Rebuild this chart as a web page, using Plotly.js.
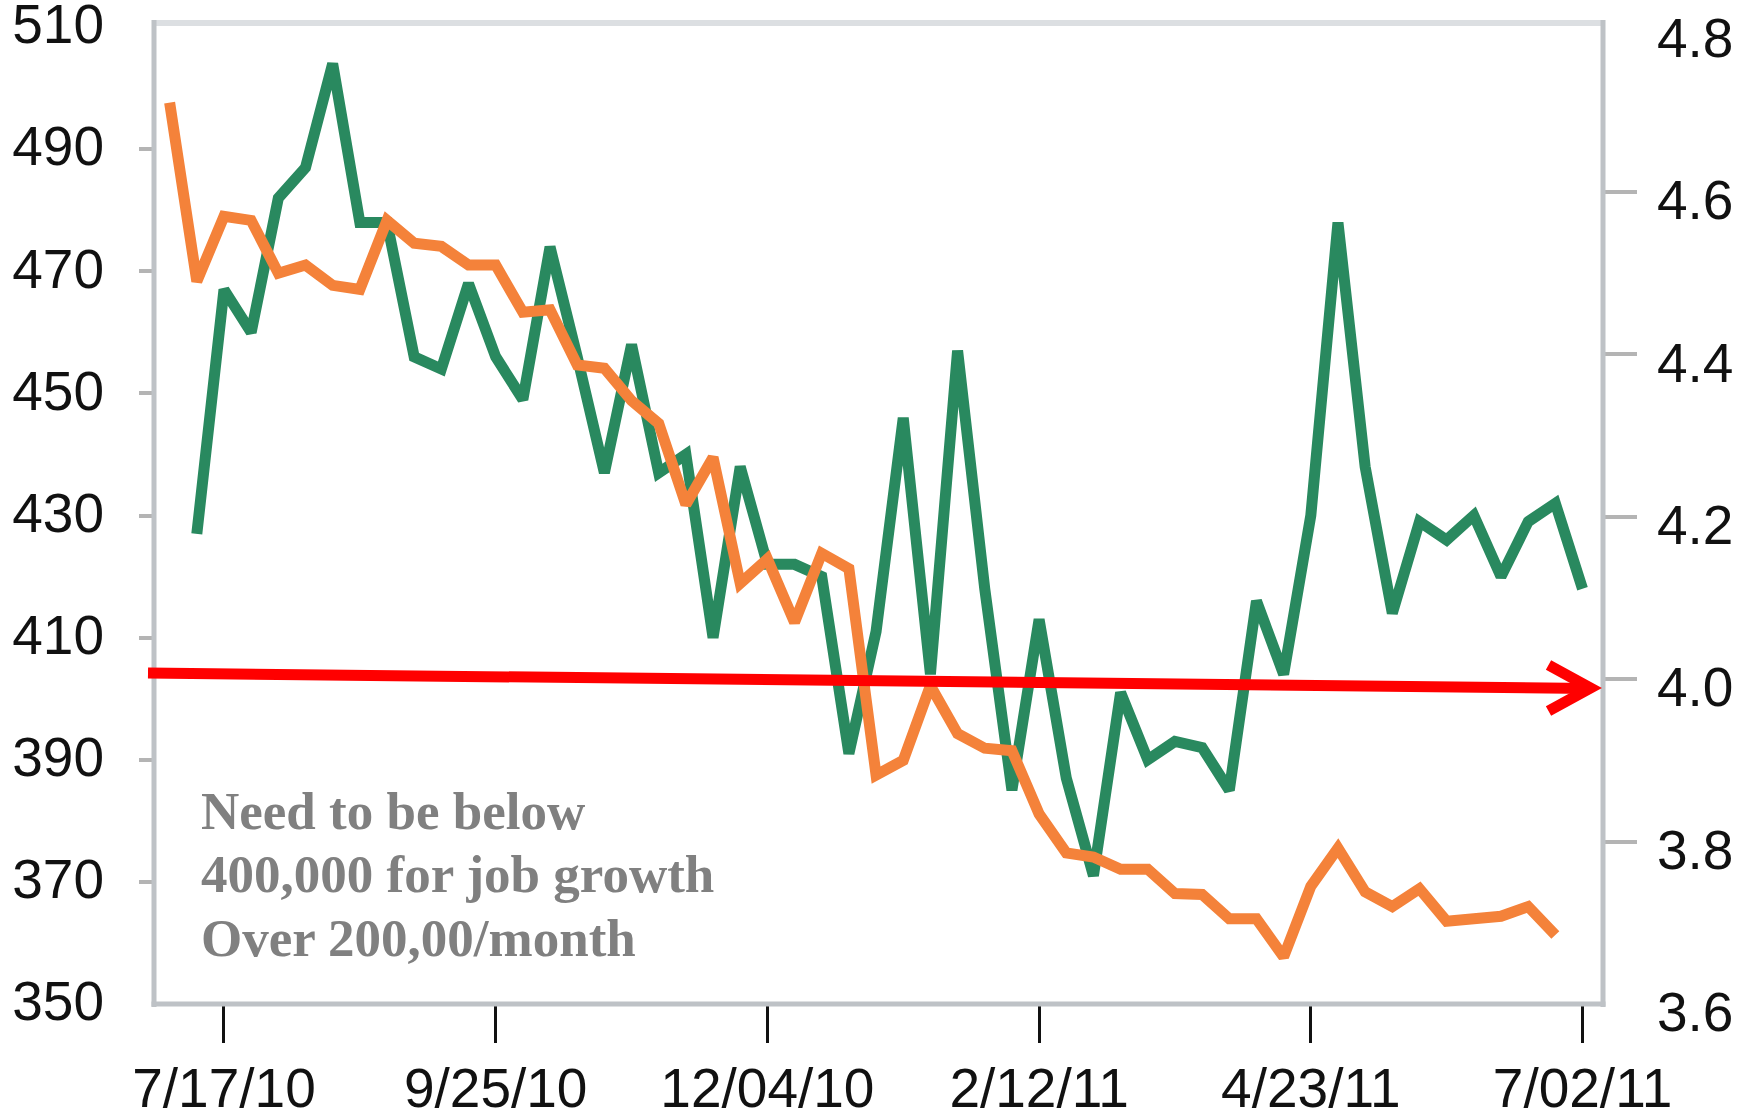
<!DOCTYPE html>
<html><head><meta charset="utf-8">
<script src="https://cdn.plot.ly/plotly-3.0.1.min.js"></script>
<style>html,body{margin:0;padding:0;background:#fff;overflow:hidden}#chart{width:1742px;height:1115px}</style>
</head><body><div id="chart"></div>
<script>
// Weekly dates (Saturdays), 2010-07-03 .. 2011-07-02
const weeks = ['2010-07-03','2010-07-10','2010-07-17','2010-07-24','2010-07-31','2010-08-07','2010-08-14','2010-08-21','2010-08-28',
  '2010-09-04','2010-09-11','2010-09-18','2010-09-25','2010-10-02','2010-10-09','2010-10-16','2010-10-23','2010-10-30',
  '2010-11-06','2010-11-13','2010-11-20','2010-11-27','2010-12-04','2010-12-11','2010-12-18','2010-12-25',
  '2011-01-01','2011-01-08','2011-01-15','2011-01-22','2011-01-29','2011-02-05','2011-02-12','2011-02-19','2011-02-26',
  '2011-03-05','2011-03-12','2011-03-19','2011-03-26','2011-04-02','2011-04-09','2011-04-16','2011-04-23','2011-04-30',
  '2011-05-07','2011-05-14','2011-05-21','2011-05-28','2011-06-04','2011-06-11','2011-06-18','2011-06-25','2011-07-02'];
// Initial claims (thousands), weeks 2010-07-10 .. 2011-07-02 (left axis)
const initialClaims = [427,467,460,482,487,504,478,478,456,454,
  468,456,449,474,456,437,458,437,440,410,
  438,422,422,420,391,411,446,404,457,418,
  385,413,387,371,401,390,393,392,385,416,
  404,430,478,438,414,429,426,430,420,429,
  432,418];
// Continuing claims (millions), weeks 2010-07-03 .. 2011-06-25 (right axis)
const continuingClaims = [4.71,4.49,4.57,4.565,4.50,4.51,4.485,4.48,4.565,4.537,
  4.533,4.51,4.51,4.452,4.455,4.387,4.383,4.343,4.315,4.215,
  4.273,4.118,4.148,4.07,4.155,4.136,3.882,3.90,3.992,3.933,
  3.915,3.912,3.834,3.786,3.781,3.766,3.766,3.736,3.735,3.705,
  3.705,3.658,3.745,3.792,3.738,3.720,3.742,3.702,3.705,3.708,
  3.720,3.685];
const tickDates = ['2010-07-17','2010-09-25','2010-12-04','2011-02-12','2011-04-23','2011-07-02'];
const tickLabels = ['7/17/10','9/25/10','12/04/10','2/12/11','4/23/11','7/02/11'];
const leftTicks = [350,370,390,410,430,450,470,490,510];
const rightTicks = [3.6,3.8,4.0,4.2,4.4,4.6,4.8];
const titleText = 'Jobless Claims';
const noteLines = ['Need to be below','400,000 for job growth','Over 200,00/month'];

const W = 1742, H = 1115;
const L = 154, R = 138.5, T = 27, B = 111;
const pw = W - L - R, ph = H - T - B;
const px = x => (x - L) / pw;         // pixel x -> paper
const py = y => (H - B - y) / ph;     // pixel y -> paper

const tickFont = {family: 'Liberation Sans, Arial, sans-serif', size: 55, color: '#111'};
const borderCol = '#bec2c6';
const minorTick = {ticks: 'outside', tickcolor: '#b4b4b4', tickwidth: 4, showgrid: false};

const traces = [
  {x: weeks.slice(0, continuingClaims.length), y: continuingClaims, yaxis: 'y2', type: 'scatter', mode: 'lines',
   line: {color: '#f4823a', width: 11}, hoverinfo: 'skip'},
  {x: weeks.slice(1, 1 + initialClaims.length), y: initialClaims, yaxis: 'y', type: 'scatter', mode: 'lines',
   line: {color: '#29895f', width: 11}, hoverinfo: 'skip'}
];

const noteY = [811, 874, 938];
const annotations = noteLines.map((t, i) => ({
  text: t, xref: 'paper', yref: 'paper', x: px(199), y: py(noteY[i]), xanchor: 'left', yanchor: 'middle',
  showarrow: false, font: {family: 'Liberation Serif, Times New Roman, serif', size: 53, color: '#808080', weight: 'bold'}
}));
annotations.push({text: '<b>' + titleText + '</b>', xref: 'paper', yref: 'paper', x: px(872), y: py(11), xanchor: 'center', yanchor: 'bottom',
  showarrow: false, font: {family: 'Liberation Sans, Arial, sans-serif', size: 53, color: '#111'}});

const shapes = [
  {type: 'line', xref: 'paper', yref: 'paper', x0: 0, x1: 1, y0: py(23), y1: py(23), line: {color: '#dcdfe2', width: 6}, layer: 'above'},
  {type: 'line', xref: 'paper', yref: 'paper', x0: 0, x1: 0, y0: py(1007), y1: py(20), line: {color: borderCol, width: 5}, layer: 'above'},
  {type: 'line', xref: 'paper', yref: 'paper', x0: 1, x1: 1, y0: py(1007), y1: py(20), line: {color: borderCol, width: 5}, layer: 'above'},
  {type: 'line', xref: 'paper', yref: 'paper', x0: px(151.5), x1: px(1606), y0: 0, y1: 0, line: {color: borderCol, width: 5}, layer: 'above'},
  // red arrow
  {type: 'line', xref: 'paper', yref: 'paper', x0: px(148), y0: py(673), x1: px(1591), y1: py(688.5), line: {color: '#ff0000', width: 11}, layer: 'above'},
  {type: 'path', xref: 'paper', yref: 'paper', xsizemode: 'pixel', ysizemode: 'pixel', xanchor: px(1591), yanchor: py(688),
   path: 'M-42,23 L0,0 L-42,-23', line: {color: '#ff0000', width: 11}, layer: 'above'}
];

const layout = {
  width: W, height: H, margin: {l: L, r: R, t: T, b: B, pad: 0},
  paper_bgcolor: '#fff', plot_bgcolor: '#fff', showlegend: false,
  xaxis: {type: 'date', range: ['2010-06-28 23:17', '2011-07-07 06:43'], tickmode: 'array', tickvals: tickDates, ticktext: tickLabels,
    ticks: 'outside', ticklen: 38, tickwidth: 3, tickcolor: '#111', showgrid: false, zeroline: false, showline: false,
    tickfont: tickFont, ticklabelstandoff: -2, ticklabeloverflow: 'allow', fixedrange: true},
  yaxis: {range: [349.99, 510.02], tickmode: 'array', tickvals: leftTicks, ticks: '', showgrid: false, zeroline: false, showline: false,
    minor: Object.assign({tickmode: 'array', tickvals: leftTicks.slice(1, -1), ticklen: 14}, minorTick),
    tickfont: tickFont, ticklabelstandoff: 49, ticklabelshift: -3, ticklabeloverflow: 'allow', fixedrange: true},
  yaxis2: {overlaying: 'y', side: 'right', range: [3.6, 4.8032], tickmode: 'array', tickvals: rightTicks, tickformat: '.1f',
    ticks: '', showgrid: false, zeroline: false, showline: false,
    minor: Object.assign({tickmode: 'array', tickvals: rightTicks.slice(1, -1), ticklen: 33}, minorTick),
    tickfont: tickFont, ticklabelstandoff: 53, ticklabelshift: 8, ticklabeloverflow: 'allow', fixedrange: true},
  annotations: annotations, shapes: shapes
};
Plotly.newPlot('chart', traces, layout, {staticPlot: true, displayModeBar: false});
</script></body></html>
